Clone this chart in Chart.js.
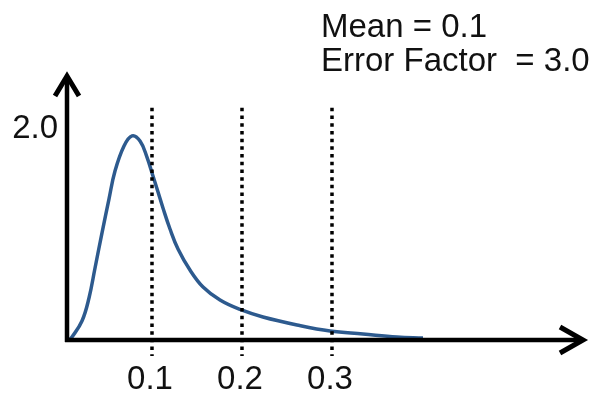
<!DOCTYPE html>
<html>
<head>
<meta charset="utf-8">
<script src="https://cdn.jsdelivr.net/npm/chart.js@4"></script>
<style>
html,body{margin:0;padding:0;background:#fff;}
#wrap{width:594px;height:393px;}
</style>
</head>
<body>
<div id="wrap"><canvas id="c" width="594" height="393"></canvas></div>
<script>
// Curve (x, density)
const curveX = [0.0078,0.0111,0.0222,0.030,0.0367,0.0444,0.0522,0.0589,0.0689,0.0778,0.0867,0.0944,0.1011,0.1067,0.1122,0.120,0.1289,0.1422,0.1567,0.1756,0.1978,0.2233,0.2611,0.2978,0.3344,0.3722,0.4011];
const curveY = [0.000,0.028,0.179,0.396,0.679,1.009,1.330,1.594,1.830,1.925,1.877,1.726,1.547,1.396,1.245,1.047,0.858,0.660,0.500,0.377,0.288,0.217,0.142,0.085,0.057,0.028,0.019];
// Reference (dotted) lines and tick labels
const refLines = [0.1, 0.2, 0.3];
const xTickLabels = ["0.1", "0.2", "0.3"];
const yTickValue = 2.0;
const yTickLabel = "2.0";
const infoLines = ["Mean = 0.1", "Error Factor  = 3.0"];

const FONT = '33px "Liberation Sans", Arial, sans-serif';

const datasets = [{
  data: curveX.map((x, i) => ({x, y: curveY[i]})),
  borderColor: '#2D5A8E',
  borderWidth: 3.5,
  pointRadius: 0,
  tension: 0.4,
  fill: false,
  order: 2,
  clip: false
}];
refLines.forEach(v => {
  datasets.push({
    data: [{x: v, y: 2.19}, {x: v, y: -0.15}],
    borderColor: '#000',
    borderWidth: 3.5,
    borderDash: [3.5, 4.2],
    borderCapStyle: 'butt',
    pointRadius: 0,
    fill: false,
    order: 1,
    clip: false
  });
});

const decor = {
  id: 'decor',
  afterDatasetsDraw(chart) {
    const {ctx, chartArea: a, scales: {x, y}} = chart;
    ctx.save();
    ctx.strokeStyle = '#000';
    ctx.lineWidth = 4.5;
    ctx.lineCap = 'butt';
    const ox = a.left, oy = y.getPixelForValue(0);
    // x axis
    ctx.beginPath();
    ctx.moveTo(ox - 2, oy);
    ctx.lineTo(a.right - 1, oy);
    ctx.stroke();
    // y axis
    ctx.beginPath();
    ctx.moveTo(ox, oy + 2);
    ctx.lineTo(ox, a.top + 1);
    ctx.stroke();
    // arrow heads
    ctx.lineWidth = 5;
    ctx.lineJoin = 'miter';
    ctx.beginPath();
    ctx.moveTo(a.right - 23, oy - 13);
    ctx.lineTo(a.right, oy);
    ctx.lineTo(a.right - 23, oy + 13);
    ctx.stroke();
    ctx.beginPath();
    ctx.moveTo(ox - 12, a.top + 20);
    ctx.lineTo(ox, a.top);
    ctx.lineTo(ox + 12, a.top + 20);
    ctx.stroke();
    // labels
    ctx.fillStyle = '#111';
    ctx.font = FONT;
    ctx.textAlign = 'center';
    ctx.textBaseline = 'alphabetic';
    refLines.forEach((v, i) => {
      ctx.fillText(xTickLabels[i], x.getPixelForValue(v) - 2, 389);
    });
    ctx.textAlign = 'right';
    ctx.textBaseline = 'middle';
    ctx.fillText(yTickLabel, 58, y.getPixelForValue(yTickValue) + 1);
    ctx.textAlign = 'left';
    ctx.textBaseline = 'alphabetic';
    ctx.fillText(infoLines[0], 321, 37);
    ctx.fillText(infoLines[1], 321, 71);
    ctx.restore();
  }
};

new Chart(document.getElementById('c'), {
  type: 'line',
  data: {datasets},
  options: {
    responsive: false,
    animation: false,
    layout: {padding: {left: 67, right: 11, top: 76, bottom: 53}},
    plugins: {legend: {display: false}, tooltip: {enabled: false}},
    scales: {
      x: {type: 'linear', display: false, min: 0.00556, max: 0.5789},
      y: {type: 'linear', display: false, min: 0, max: 2.4906}
    }
  },
  plugins: [decor]
});
</script>
</body>
</html>
